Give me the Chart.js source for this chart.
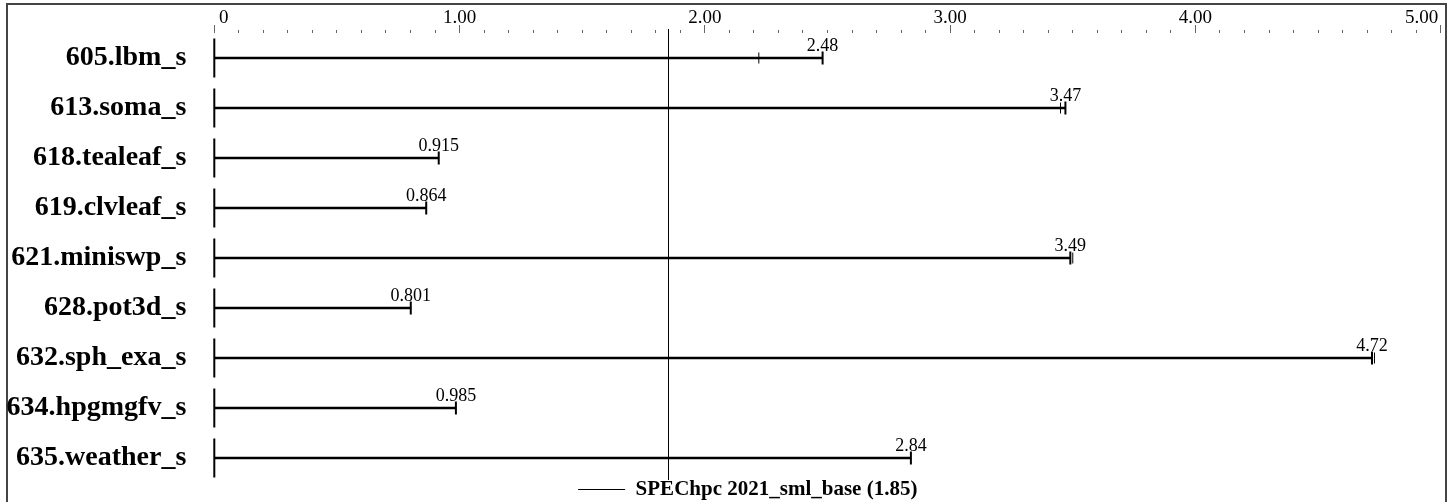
<!DOCTYPE html>
<html><head><meta charset="utf-8">
<script src="https://cdn.jsdelivr.net/npm/chart.js@4/dist/chart.umd.min.js"></script>
<style>
html,body{margin:0;padding:0;background:#fff;width:1455px;height:502px;overflow:hidden}
#frame{position:absolute;left:6px;top:3px;width:1441px;height:600px;border:2px solid #444;box-sizing:border-box}
#c{position:absolute;left:0;top:0}
</style></head><body>
<div id="frame"></div>
<canvas id="c" width="1455" height="502"></canvas>
<script>
const categories = ['605.lbm_s','613.soma_s','618.tealeaf_s','619.clvleaf_s','621.miniswp_s','628.pot3d_s','632.sph_exa_s','634.hpgmgfv_s','635.weather_s'];
const values = [2.48, 3.47, 0.915, 0.864, 3.49, 0.801, 4.72, 0.985, 2.84];
const valueLabels = ['2.48','3.47','0.915','0.864','3.49','0.801','4.72','0.985','2.84'];
const otherRuns = [2.22, 3.45, null, null, 3.50, null, 4.73, null, null];
const referenceValue = 1.85;
const referenceLabel = 'SPEChpc 2021_sml_base (1.85)';
const axisTicks = [0, 1, 2, 3, 4, 5];
const axisTickLabels = ['0', '1.00', '2.00', '3.00', '4.00', '5.00'];

const SERIF = '"Liberation Serif", "Times New Roman", serif';

const refLinePlugin = {
  id: 'refLine',
  afterLayout(chart) {
    // let the category labels use the full left margin (no clipping)
    chart.scales.y.left = 0;
    // let the legend text rise slightly above the plot bottom
    if (chart.legend) { chart.legend.top -= 4; chart.legend.bottom -= 4; }
  },
  afterDatasetsDraw(chart) {
    const xs = chart.scales.x, a = chart.chartArea, ctx = chart.ctx;
    const px = Math.round(xs.getPixelForValue(referenceValue)) + 0.5;
    ctx.save();
    ctx.strokeStyle = '#000';
    ctx.lineWidth = 1;
    ctx.beginPath();
    ctx.moveTo(px, a.top - 4);
    ctx.lineTo(px, a.bottom - 3);
    ctx.stroke();
    ctx.restore();
  }
};

const valueLabelPlugin = {
  id: 'valueLabels',
  afterDatasetsDraw(chart) {
    const meta = chart.getDatasetMeta(0), ctx = chart.ctx;
    ctx.save();
    ctx.font = '18px ' + SERIF;
    ctx.fillStyle = '#000';
    ctx.textAlign = 'center';
    ctx.textBaseline = 'alphabetic';
    meta.data.forEach((el, i) => {
      ctx.fillText(valueLabels[i], el.x, el.y - 7);
    });
    ctx.restore();
  }
};

new Chart(document.getElementById('c'), {
  type: 'bar',
  data: {
    labels: categories,
    datasets: [
      { type: 'bar', indexAxis: 'y', data: values, backgroundColor: '#000', borderWidth: 0, barThickness: 2, xAxisID: 'x', yAxisID: 'y' },
      { type: 'scatter', data: categories.map(c => ({x: 0, y: c})), pointStyle: 'line', rotation: 90, radius: 19.5, borderWidth: 2, borderColor: '#000', clip: false, xAxisID: 'x', yAxisID: 'y' },
      { type: 'scatter', data: values.map((v, i) => ({x: v, y: categories[i]})), pointStyle: 'line', rotation: 90, radius: 6.5, borderWidth: 2, borderColor: '#000', clip: false, xAxisID: 'x', yAxisID: 'y' },
      { type: 'scatter', data: otherRuns.map((v, i) => v === null ? null : ({x: v, y: categories[i]})).filter(p => p), pointStyle: 'line', rotation: 90, radius: 5.5, borderWidth: 1, borderColor: '#000', clip: false, xAxisID: 'x', yAxisID: 'y' }
    ]
  },
  options: {
    responsive: false,
    devicePixelRatio: 1,
    animation: false,
    events: [],
    layout: { autoPadding: false, padding: { left: 54.8, right: 14.3, top: 0, bottom: -12 } },
    scales: {
      x: {
        type: 'linear', position: 'top', min: 0, max: 5, weight: 1, offset: false,
        ticks: {
          stepSize: 1, padding: -3, color: '#000', autoSkip: false, maxRotation: 0,
          font: { family: SERIF, size: 19, lineHeight: 1 },
          callback: (v) => {
            const i = axisTicks.indexOf(v);
            if (i < 0) return '';
            let s = axisTickLabels[i];
            if (i === 0) s = '    ' + s;
            if (i === axisTicks.length - 1) s = s + '        ';
            return s;
          }
        },
        grid: { offset: false, drawOnChartArea: false, drawTicks: true, tickLength: 8, tickColor: '#666', tickWidth: 1 },
        border: { display: false },
        afterFit(s) { s.height = 33; s.paddingLeft = 0; s.paddingRight = 0; }
      },
      x2: {
        type: 'linear', position: 'top', min: 0, max: 5, weight: 0, offset: false,
        ticks: { stepSize: 0.1, display: false },
        grid: { offset: false, drawOnChartArea: false, drawTicks: true, tickLength: 3, tickColor: '#666', tickWidth: 1 },
        border: { display: false },
        afterFit(s) { s.height = 0; s.paddingLeft = 0; s.paddingRight = 0; }
      },
      y: {
        type: 'category', labels: categories, position: 'left', offset: true,
        grid: { display: false, drawTicks: false, offset: true },
        border: { display: false },
        ticks: { padding: 28, color: '#000', autoSkip: false, font: { family: SERIF, size: 28, weight: 'bold' } },
        afterFit(s) { s.width = 159.5; s.paddingTop = 0; s.paddingBottom = 0; }
      }
    },
    plugins: {
      tooltip: { enabled: false },
      legend: {
        position: 'bottom',
        labels: {
          boxWidth: 47, boxHeight: 1, padding: 0, color: '#000',
          font: { family: SERIF, size: 21, weight: 'bold' },
          generateLabels: () => [{ text: referenceLabel, fillStyle: '#000', strokeStyle: '#000', lineWidth: 0, hidden: false, datasetIndex: 0 }]
        }
      }
    }
  },
  plugins: [refLinePlugin, valueLabelPlugin]
});
</script>
</body></html>
